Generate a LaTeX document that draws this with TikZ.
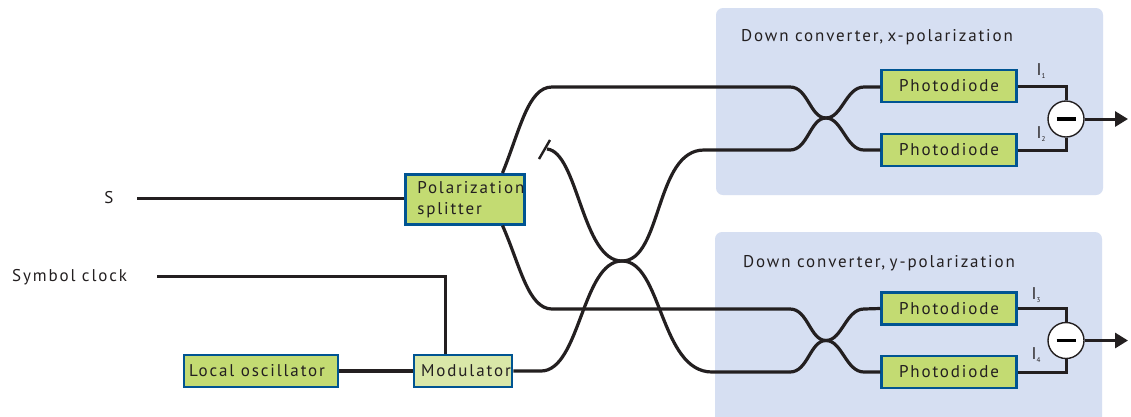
\documentclass[tikz,border=0pt]{standalone}
\usepackage{fontspec}
\setmainfont[LetterSpace=11,WordSpace=1.0]{PT Sans}
\definecolor{panelblue}{RGB}{214, 223, 242}
\definecolor{boxgreen}{RGB}{195, 219, 114}
\definecolor{lightgreen}{RGB}{217, 231, 168}
\definecolor{edgeblue}{RGB}{0, 84, 146}
\definecolor{fiberblack}{RGB}{35, 31, 32}
\usetikzlibrary{arrows.meta, positioning, calc}
\tikzset{
  panel/.style={fill=panelblue, rounded corners=7pt},
  block/.style={draw=edgeblue, fill=boxgreen, line width=2.5pt, text=fiberblack, font=\fontsize{17}{21}\selectfont, inner sep=0pt},
  diode/.style={block, minimum width=135pt, minimum height=32pt},
  diff/.style={circle, draw=fiberblack, fill=white, line width=1.4pt, minimum size=36pt, inner sep=0pt},
  fiber/.style={draw=fiberblack, line width=3.2pt},
  wire/.style={draw=fiberblack, line width=3pt},
  lbl/.style={text=fiberblack, font=\fontsize{17}{21}\selectfont, inner sep=0pt},
  curr/.style={text=fiberblack, font=\fontsize{17}{21}\selectfont, inner sep=0pt}
}
\newcommand{\curr}[1]{I\raisebox{-3pt}{\fontsize{7}{7}\selectfont #1}}
\newcommand{\minusbar}{\rule[-1.7pt]{19pt}{3.4pt}}
\begin{document}
\begin{tikzpicture}[x=1pt, y=-1pt]
  \clip (0,0) rectangle (1131,416);
  \fill[white] (0,0) rectangle (1131,416);
  % Down converter panels
  \fill[panel] (716,8) rectangle (1103,195);
  \fill[panel] (715,232) rectangle (1102,440);
  \node[lbl, anchor=west] (titlex) at (741,37.5) {Down converter,\hspace{-2pt} x-polarization};
  \node[lbl, anchor=west] (titley) at (743,263.5) {Down converter,\hspace{-2pt} y-polarization};

  % Input side
  \node[lbl] (signal) at (109,198) {S};
  \node[lbl, anchor=west] (clock) at (12,277) {Symbol clock};
  \coordinate (signalend) at (137,198);
  \coordinate (clockend) at (157,276);
  \node[block, anchor=north west, minimum width=119pt, minimum height=50pt, align=left, text width=112pt] (splitter) at (404,173) {\hspace*{8.5pt}Polarization\\\hspace*{8.5pt}splitter};
  \node[block, minimum width=154pt, minimum height=32pt] (oscillator) at (261,371) {Local oscillator\hspace*{8pt}};
  \node[block, fill=lightgreen, minimum width=98pt, minimum height=32pt] (modulator) at (463,371) {\hspace*{6pt}Modulator};

  % Photodiodes
  \node[diode] (diodeone) at (949,86) {Photodiode};
  \node[diode] (diodetwo) at (949,150) {Photodiode};
  \node[diode] (diodethree) at (949,308.5) {Photodiode};
  \node[diode] (diodefour) at (949,372) {Photodiode};
  \node[diff] (diffx) at (1066,119) {\minusbar};
  \node[diff] (diffy) at (1066,340.5) {\minusbar};
  \coordinate (outx) at (1128,119);
  \coordinate (outy) at (1128,340.5);

  % Current labels
  \node[curr] (ione) at (1041,71) {\curr{1}};
  \node[curr] (itwo) at (1041,134) {\curr{2}};
  \node[curr] (ithree) at (1036,295) {\curr{3}};
  \node[curr] (ifour) at (1036,355) {\curr{4}};

  % Electrical lines
  \draw[wire] (signalend) -- (signal -| splitter.west);
  \draw[wire] (clockend) -| (modulator.north -| 445,0);
  \draw[fiber, line width=3.6pt] (oscillator) -- (modulator);
  \draw[wire] (diodeone.east) -| (diffx.north);
  \draw[wire] (diodetwo.east) -| (diffx.south);
  \draw[wire] (diodethree.east) -| (diffy.north);
  \draw[wire] (diodefour.east) -| (diffy.south);
  \draw[wire, -{Triangle[length=13pt, width=15pt]}] (diffx) -- (outx);
  \draw[wire, -{Triangle[length=13pt, width=15pt]}] (diffy) -- (outy);

  % Splitter outputs
  \coordinate (xin) at (790,87);
  \coordinate (xref) at (790,150);
  \coordinate (yin) at (790,309);
  \coordinate (yref) at (790,372);
  \coordinate (stub) at (547,149);
  \draw[fiber] (splitter.north east) ++(-23,0) .. controls (520,130) and (528,87) .. (552,87) -- (xin);
  \draw[fiber] (splitter.south east) ++(-23,0) .. controls (520,265) and (528,309) .. (552,309) -- (yin);

  % Local oscillator coupler
  \draw[fiber] (stub) .. controls (578,152) and (582,261) .. (622,261) .. controls (662,261) and (660,372) .. (712,372) -- (yref);
  \draw[fiber] (modulator.east) -- (541,371) .. controls (580,371) and (582,261) .. (622,261) .. controls (662,261) and (655,150) .. (704,150) -- (xref);
  \draw[wire, line width=2.4pt] (539,159) -- (550,140);

  % Couplers in front of the diodes
  \draw[fiber] (xin) .. controls (808,87) and (810,118) .. (826,118) .. controls (842,118) and (846,150) .. (864,150) -- (diodetwo.west);
  \draw[fiber] (xref) .. controls (808,150) and (810,118) .. (826,118) .. controls (842,118) and (846,87) .. (864,87) -- (diodeone.west |- 0,87);
  \draw[fiber] (yin) .. controls (808,309) and (810,340.5) .. (826,340.5) .. controls (842,340.5) and (846,372) .. (864,372) -- (diodefour.west);
  \draw[fiber] (yref) .. controls (808,372) and (810,340.5) .. (826,340.5) .. controls (842,340.5) and (846,309) .. (864,309) -- (diodethree.west);
\end{tikzpicture}
\end{document}
